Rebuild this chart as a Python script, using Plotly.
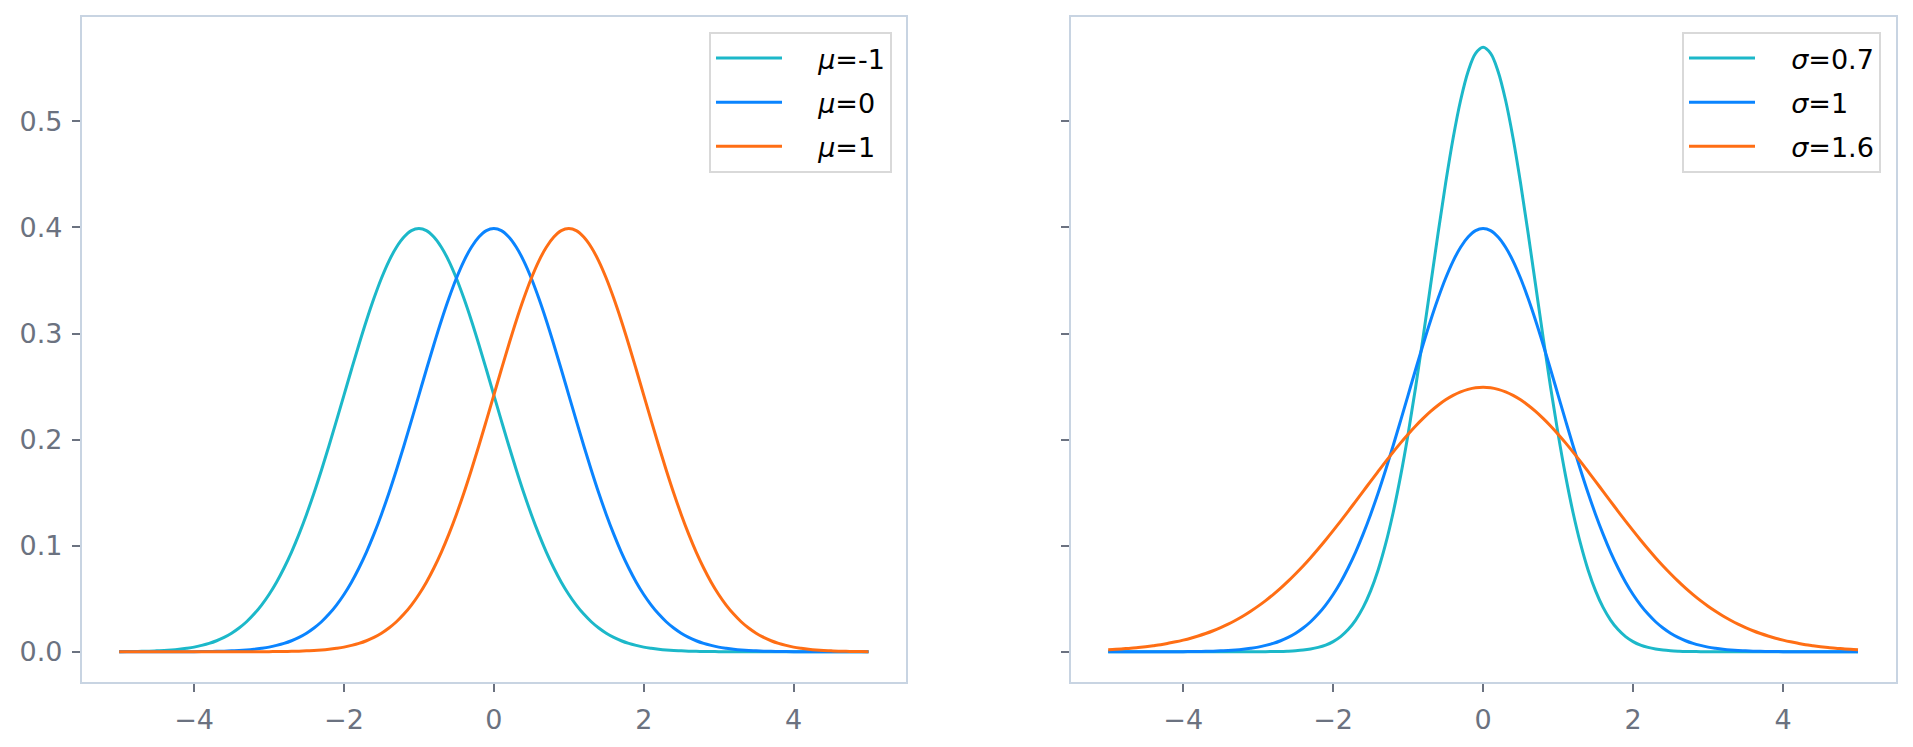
import plotly.graph_objects as go
from plotly.subplots import make_subplots

# ---------------- data ----------------
x_vals = [-5.0, -4.9, -4.8, -4.7, -4.6, -4.5, -4.4, -4.3, -4.2, -4.1,
          -4.0, -3.9, -3.8, -3.7, -3.6, -3.5, -3.4, -3.3, -3.2, -3.1,
          -3.0, -2.9, -2.8, -2.7, -2.6, -2.5, -2.4, -2.3, -2.2, -2.1,
          -2.0, -1.9, -1.8, -1.7, -1.6, -1.5, -1.4, -1.3, -1.2, -1.1,
          -1.0, -0.9, -0.8, -0.7, -0.6, -0.5, -0.4, -0.3, -0.2, -0.1,
          0.0, 0.1, 0.2, 0.3, 0.4, 0.5, 0.6, 0.7, 0.8, 0.9,
          1.0, 1.1, 1.2, 1.3, 1.4, 1.5, 1.6, 1.7, 1.8, 1.9,
          2.0, 2.1, 2.2, 2.3, 2.4, 2.5, 2.6, 2.7, 2.8, 2.9,
          3.0, 3.1, 3.2, 3.3, 3.4, 3.5, 3.6, 3.7, 3.8, 3.9,
          4.0, 4.1, 4.2, 4.3, 4.4, 4.5, 4.6, 4.7, 4.8, 4.9, 5.0]

mu_labels = ["<i>μ</i>=-1", "<i>μ</i>=0", "<i>μ</i>=1"]
y_mu_m1 = [0.0001, 0.0002, 0.0003, 0.0004, 0.0006, 0.0009, 0.0012, 0.0017, 0.0024, 0.0033,
           0.0044, 0.0060, 0.0079, 0.0104, 0.0136, 0.0175, 0.0224, 0.0283, 0.0355, 0.0440,
           0.0540, 0.0656, 0.0790, 0.0940, 0.1109, 0.1295, 0.1497, 0.1714, 0.1942, 0.2179,
           0.2420, 0.2661, 0.2897, 0.3123, 0.3332, 0.3521, 0.3683, 0.3814, 0.3910, 0.3970,
           0.3989,
           0.3970, 0.3910, 0.3814, 0.3683, 0.3521, 0.3332, 0.3123, 0.2897, 0.2661, 0.2420,
           0.2179, 0.1942, 0.1714, 0.1497, 0.1295, 0.1109, 0.0940, 0.0790, 0.0656, 0.0540,
           0.0440, 0.0355, 0.0283, 0.0224, 0.0175, 0.0136, 0.0104, 0.0079, 0.0060, 0.0044,
           0.0033, 0.0024, 0.0017, 0.0012, 0.0009, 0.0006, 0.0004, 0.0003, 0.0002, 0.0001,
           0.0001, 0.0001, 0.0, 0.0, 0.0, 0.0, 0.0, 0.0, 0.0, 0.0,
           0.0, 0.0, 0.0, 0.0, 0.0, 0.0, 0.0, 0.0, 0.0, 0.0]
y_mu_0 = [0.0, 0.0, 0.0, 0.0, 0.0, 0.0, 0.0, 0.0, 0.0001, 0.0001,
          0.0001, 0.0002, 0.0003, 0.0004, 0.0006, 0.0009, 0.0012, 0.0017, 0.0024, 0.0033,
          0.0044, 0.0060, 0.0079, 0.0104, 0.0136, 0.0175, 0.0224, 0.0283, 0.0355, 0.0440,
          0.0540, 0.0656, 0.0790, 0.0940, 0.1109, 0.1295, 0.1497, 0.1714, 0.1942, 0.2179,
          0.2420, 0.2661, 0.2897, 0.3123, 0.3332, 0.3521, 0.3683, 0.3814, 0.3910, 0.3970,
          0.3989,
          0.3970, 0.3910, 0.3814, 0.3683, 0.3521, 0.3332, 0.3123, 0.2897, 0.2661, 0.2420,
          0.2179, 0.1942, 0.1714, 0.1497, 0.1295, 0.1109, 0.0940, 0.0790, 0.0656, 0.0540,
          0.0440, 0.0355, 0.0283, 0.0224, 0.0175, 0.0136, 0.0104, 0.0079, 0.0060, 0.0044,
          0.0033, 0.0024, 0.0017, 0.0012, 0.0009, 0.0006, 0.0004, 0.0003, 0.0002, 0.0001,
          0.0001, 0.0001, 0.0, 0.0, 0.0, 0.0, 0.0, 0.0, 0.0, 0.0]
y_mu_p1 = [0.0, 0.0, 0.0, 0.0, 0.0, 0.0, 0.0, 0.0, 0.0, 0.0,
           0.0, 0.0, 0.0, 0.0, 0.0, 0.0, 0.0, 0.0, 0.0001, 0.0001,
           0.0001, 0.0002, 0.0003, 0.0004, 0.0006, 0.0009, 0.0012, 0.0017, 0.0024, 0.0033,
           0.0044, 0.0060, 0.0079, 0.0104, 0.0136, 0.0175, 0.0224, 0.0283, 0.0355, 0.0440,
           0.0540, 0.0656, 0.0790, 0.0940, 0.1109, 0.1295, 0.1497, 0.1714, 0.1942, 0.2179,
           0.2420, 0.2661, 0.2897, 0.3123, 0.3332, 0.3521, 0.3683, 0.3814, 0.3910, 0.3970,
           0.3989,
           0.3970, 0.3910, 0.3814, 0.3683, 0.3521, 0.3332, 0.3123, 0.2897, 0.2661, 0.2420,
           0.2179, 0.1942, 0.1714, 0.1497, 0.1295, 0.1109, 0.0940, 0.0790, 0.0656, 0.0540,
           0.0440, 0.0355, 0.0283, 0.0224, 0.0175, 0.0136, 0.0104, 0.0079, 0.0060, 0.0044,
           0.0033, 0.0024, 0.0017, 0.0012, 0.0009, 0.0006, 0.0004, 0.0003, 0.0002, 0.0001]

sigma_labels = ["<i>σ</i>=0.7", "<i>σ</i>=1", "<i>σ</i>=1.6"]
y_sig_07 = [0.0, 0.0, 0.0, 0.0, 0.0, 0.0, 0.0, 0.0, 0.0, 0.0,
            0.0, 0.0, 0.0, 0.0, 0.0, 0.0, 0.0, 0.0, 0.0, 0.0,
            0.0001, 0.0001, 0.0002, 0.0003, 0.0006, 0.0010, 0.0016, 0.0026, 0.0041, 0.0063,
            0.0096, 0.0143, 0.0209, 0.0299, 0.0418, 0.0574, 0.0771, 0.1016, 0.1311, 0.1658,
            0.2054, 0.2494, 0.2966, 0.3457, 0.3947, 0.4416, 0.4841, 0.5199, 0.5471, 0.5641,
            0.5699,
            0.5641, 0.5471, 0.5199, 0.4841, 0.4416, 0.3947, 0.3457, 0.2966, 0.2494, 0.2054,
            0.1658, 0.1311, 0.1016, 0.0771, 0.0574, 0.0418, 0.0299, 0.0209, 0.0143, 0.0096,
            0.0063, 0.0041, 0.0026, 0.0016, 0.0010, 0.0006, 0.0003, 0.0002, 0.0001, 0.0001,
            0.0, 0.0, 0.0, 0.0, 0.0, 0.0, 0.0, 0.0, 0.0, 0.0,
            0.0, 0.0, 0.0, 0.0, 0.0, 0.0, 0.0, 0.0, 0.0, 0.0]
y_sig_1 = [0.0, 0.0, 0.0, 0.0, 0.0, 0.0, 0.0, 0.0, 0.0001, 0.0001,
           0.0001, 0.0002, 0.0003, 0.0004, 0.0006, 0.0009, 0.0012, 0.0017, 0.0024, 0.0033,
           0.0044, 0.0060, 0.0079, 0.0104, 0.0136, 0.0175, 0.0224, 0.0283, 0.0355, 0.0440,
           0.0540, 0.0656, 0.0790, 0.0940, 0.1109, 0.1295, 0.1497, 0.1714, 0.1942, 0.2179,
           0.2420, 0.2661, 0.2897, 0.3123, 0.3332, 0.3521, 0.3683, 0.3814, 0.3910, 0.3970,
           0.3989,
           0.3970, 0.3910, 0.3814, 0.3683, 0.3521, 0.3332, 0.3123, 0.2897, 0.2661, 0.2420,
           0.2179, 0.1942, 0.1714, 0.1497, 0.1295, 0.1109, 0.0940, 0.0790, 0.0656, 0.0540,
           0.0440, 0.0355, 0.0283, 0.0224, 0.0175, 0.0136, 0.0104, 0.0079, 0.0060, 0.0044,
           0.0033, 0.0024, 0.0017, 0.0012, 0.0009, 0.0006, 0.0004, 0.0003, 0.0002, 0.0001,
           0.0001, 0.0001, 0.0, 0.0, 0.0, 0.0, 0.0, 0.0, 0.0, 0.0]
y_sig_16 = [0.0019, 0.0023, 0.0028, 0.0033, 0.0040, 0.0048, 0.0057, 0.0067, 0.0080, 0.0094,
            0.0110, 0.0128, 0.0149, 0.0172, 0.0198, 0.0228, 0.0261, 0.0297, 0.0337, 0.0382,
            0.0430, 0.0482, 0.0539, 0.0600, 0.0666, 0.0736, 0.0809, 0.0887, 0.0969, 0.1054,
            0.1142, 0.1232, 0.1324, 0.1418, 0.1512, 0.1607, 0.1700, 0.1792, 0.1882, 0.1969,
            0.2051, 0.2129, 0.2200, 0.2266, 0.2324, 0.2375, 0.2417, 0.2450, 0.2474, 0.2489,
            0.2493,
            0.2489, 0.2474, 0.2450, 0.2417, 0.2375, 0.2324, 0.2266, 0.2200, 0.2129, 0.2051,
            0.1969, 0.1882, 0.1792, 0.1700, 0.1607, 0.1512, 0.1418, 0.1324, 0.1232, 0.1142,
            0.1054, 0.0969, 0.0887, 0.0809, 0.0736, 0.0666, 0.0600, 0.0539, 0.0482, 0.0430,
            0.0382, 0.0337, 0.0297, 0.0261, 0.0228, 0.0198, 0.0172, 0.0149, 0.0128, 0.0110,
            0.0094, 0.0080, 0.0067, 0.0057, 0.0048, 0.0040, 0.0033, 0.0028, 0.0023, 0.0019]

x_tick_vals = [-4, -2, 0, 2, 4]
y_tick_vals = [0.0, 0.1, 0.2, 0.3, 0.4, 0.5]

for arr in (y_mu_m1, y_mu_0, y_mu_p1, y_sig_07, y_sig_1, y_sig_16):
    assert len(arr) == len(x_vals), len(arr)

# ---------------- styling ----------------
colors = ["#1cb8c9", "#0a84ff", "#ff6e14"]
FONT = "DejaVu Sans, sans-serif"
TICK_COLOR = "#6b7280"
FRAME_COLOR = "#c8d4e2"
W, H = 1913, 747
PAD = "\u00a0\u00a0\u00a0\u2009"

fig = make_subplots(rows=1, cols=2)

for i, (ys, name, c) in enumerate(zip([y_mu_m1, y_mu_0, y_mu_p1], mu_labels, colors)):
    fig.add_trace(go.Scatter(x=x_vals, y=ys, mode="lines", name=PAD + name,
                             legendgroup="m%d" % i,
                             line=dict(color=c, width=3, shape="spline", smoothing=1.0),
                             legend="legend"), row=1, col=1)
for i, (ys, name, c) in enumerate(zip([y_sig_07, y_sig_1, y_sig_16], sigma_labels, colors)):
    fig.add_trace(go.Scatter(x=x_vals, y=ys, mode="lines", name=PAD + name,
                             legendgroup="s%d" % i,
                             line=dict(color=c, width=3, shape="spline", smoothing=1.0),
                             legend="legend2"), row=1, col=2)

axis_common = dict(showline=True, mirror=True, linecolor=FRAME_COLOR, linewidth=1.6,
                   showgrid=False, zeroline=False, ticks="outside", ticklen=8,
                   tickwidth=2, tickcolor=TICK_COLOR,
                   tickfont=dict(family=FONT, size=27, color=TICK_COLOR))

fig.update_xaxes(**axis_common, range=[-5.5, 5.5], tickvals=x_tick_vals,
                 ticklabelstandoff=5)
fig.update_yaxes(**axis_common, range=[-0.0285, 0.5984], tickvals=y_tick_vals,
                 tickformat=".1f", ticklabelstandoff=4)
fig.update_yaxes(showticklabels=False, row=1, col=2)

legend_common = dict(bgcolor="white", bordercolor="#d9d9d9", borderwidth=2,
                     font=dict(family=FONT, size=27, color="black"), itemwidth=66,
                     tracegroupgap=6, xanchor="right", yanchor="top")

fig.update_layout(
    width=W, height=H,
    margin=dict(l=0, r=0, t=0, b=0),
    plot_bgcolor="white", paper_bgcolor="white",
    xaxis=dict(domain=[81.7 / W, 906 / W]),
    xaxis2=dict(domain=[1070.7 / W, 1895.5 / W]),
    yaxis=dict(domain=[1 - 682 / H, 1 - 17 / H]),
    yaxis2=dict(domain=[1 - 682 / H, 1 - 17 / H]),
    legend=dict(x=892 / W, y=1 - 32 / H, **legend_common),
    legend2=dict(x=1881 / W, y=1 - 32 / H, **legend_common),
    showlegend=True,
)

fig.write_html("out.html")
